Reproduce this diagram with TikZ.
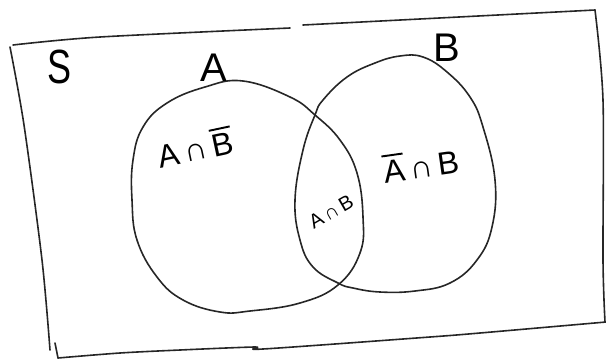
\documentclass[tikz,border=0pt]{standalone}
\usepackage{fontspec}
\setmainfont{Liberation Sans}
\newcommand\ovlbar[1]{\setbox0\hbox{#1}\rlap{\raisebox{\dimexpr\ht0+0.12em\relax}{\rule{\wd0}{0.06em}}}#1}
\begin{document}
\begin{tikzpicture}[x=1pt,y=-1pt,
  handline/.style={line width=1.6pt, line cap=round, line join=round, black!85},
  biglbl/.style={font=\fontsize{40}{40}\selectfont, inner sep=0pt},
  setlbl/.style={font=\fontsize{32}{32}\selectfont, inner sep=0pt},
  smalllbl/.style={font=\fontsize{20}{20}\selectfont, inner sep=0pt}]
\useasboundingbox (0,0) rectangle (606,360);
% frame (sample space)
\draw[handline] plot[smooth, tension=0.5] coordinates {(290,28) (100,37) (13,45)};
\draw[handline] plot[smooth, tension=0.5] coordinates {(10,47) (24,125) (42,260) (50,350)};
\draw[handline] (55,343) -- (58,358);
\draw[handline] plot[smooth, tension=0.5] coordinates {(58,358) (120,353) (180,350) (255,347) (263,349) (430,337) (480,333) (606,322)};
\draw[handline] (303,25) -- (595,10);
\draw[handline] plot[smooth, tension=0.5] coordinates {(595,10) (603,100) (603,260) (605,322)};
% set A
\draw[handline] plot[smooth cycle, tension=0.7] coordinates {(243,81) (290,97) (315,115) (340,140) (357,173) (363,217) (360,253) (338,285) (300,303) (250,311) (220,312) (183,300) (157,277) (137,240) (132,200) (133,160) (143,127) (167,103) (205,87)};
% set B
\draw[handline] plot[smooth cycle, tension=0.7] coordinates {(400,56) (423,57) (447,72) (470,97) (483,127) (495,180) (492,227) (477,260) (450,283) (415,291) (380,292) (353,288) (338,283) (313,267) (300,240) (295,200) (303,150) (315,115) (323,100) (347,77) (375,63)};
% labels
\node[biglbl, xscale=0.75, font=\fontsize{48}{48}\selectfont] (S) at (60,67) {S};
\node[biglbl] (A) at (214,68) {A};
\node[biglbl] (B) at (447,48) {B};
\node[setlbl, rotate=12] (AnotB) at (195,147) {A\,∩\,\ovlbar{B}};
\node[smalllbl, rotate=30] (AB) at (331,212) {A\,∩\,B};
\node[setlbl, rotate=8] (notAB) at (421,164) {\ovlbar{A}\,∩\,B};
\end{tikzpicture}
\end{document}
